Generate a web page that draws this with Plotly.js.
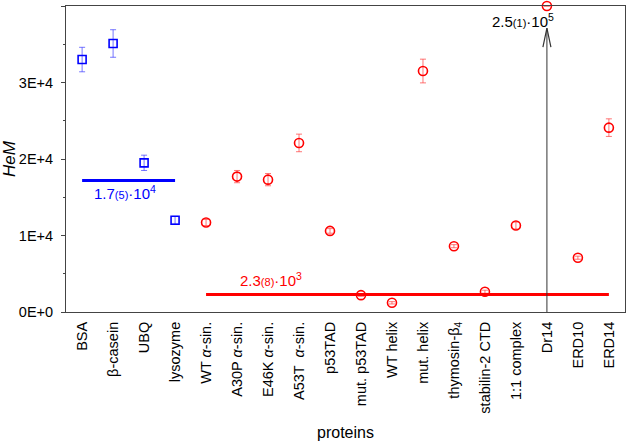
<!DOCTYPE html>
<html><head><meta charset="utf-8">
<script src="https://cdn.plot.ly/plotly-3.0.1.min.js"></script>
<style>html,body{margin:0;padding:0;background:#fff}#c{width:627px;height:443px}</style>
</head><body><div id="c"></div>
<script>
var categories = ["BSA","β-casein","UBQ","lysozyme","WT <i>α</i>-sin.","A30P <i>α</i>-sin.","E46K <i>α</i>-sin.","A53T  <i>α</i>-sin.","p53TAD","mut. p53TAD","WT helix","mut. helix","thymosin-β<sub>4</sub>","stabilin-2 CTD","1:1 complex","Dr14","ERD10","ERD14"];
var globCats = ["BSA","β-casein","UBQ","lysozyme"];
var globVals = [33000, 35100, 19500, 12000];
var globErr = [1600, 1800, 1000, 500];
var idpCats = ["WT <i>α</i>-sin.","A30P <i>α</i>-sin.","E46K <i>α</i>-sin.","A53T  <i>α</i>-sin.","p53TAD","mut. p53TAD","WT helix","mut. helix","thymosin-β<sub>4</sub>","stabilin-2 CTD","1:1 complex","Dr14","ERD10","ERD14"];
var idpVals = [11700, 17700, 17300, 22100, 10600, 2200, 1200, 31500, 8600, 2650, 11300, 250000, 7100, 24100];
var idpErr = [400, 800, 800, 1150, 300, 150, 150, 1550, 200, 200, 450, 0, 200, 1150];
var globMean = 17200, idpMean = 2300;
var yMax = 40000;
var yTickVals = [0, 10000, 20000, 30000, 40000];
var yTickText = ["0E+0","1E+4","2E+4","3E+4","4E+4"];
var yMinor = [5000, 15000, 25000, 35000];
var arrowTip = 37100;

var idpShown = idpVals.map(function(v){return Math.min(v, yMax);});
var drIdx = categories.indexOf("Dr14");

var traces = [
  {x: globCats, y: globVals, type:'scatter', mode:'markers', cliponaxis:false,
   marker:{symbol:'square-open', size:8, color:'#0000ff', line:{width:1.6, color:'#0000ff'}},
   error_y:{type:'data', array: globErr, visible:true, color:'rgba(60,60,255,0.7)', thickness:1, width:3}},
  {x: idpCats, y: idpShown, type:'scatter', mode:'markers', cliponaxis:false,
   marker:{symbol:'circle-open', size:9, color:'#ff0000', line:{width:1.6, color:'#ff0000'}},
   error_y:{type:'data', array: idpErr, visible:true, color:'rgba(255,60,60,0.7)', thickness:1, width:3}},
  {x: [globCats[0], globCats[globCats.length-1]], y:[globMean, globMean], type:'scatter', mode:'lines',
   line:{color:'#0000ff', width:3}, hoverinfo:'skip'},
  {x: [idpCats[0], idpCats[idpCats.length-1]], y:[idpMean, idpMean], type:'scatter', mode:'lines',
   line:{color:'#ff0000', width:3}, hoverinfo:'skip'}
];

var layout = {
  width:627, height:443, showlegend:false,
  margin:{l:66, r:2, t:6, b:131},
  paper_bgcolor:'#fff', plot_bgcolor:'#fff',
  font:{family:'Liberation Sans, Arial, sans-serif', color:'#000', size:14},
  xaxis:{type:'category', categoryorder:'array', categoryarray: categories, range:[-0.52, 17.52],
    showline:true, mirror:true, linecolor:'#444', linewidth:1, showgrid:false, zeroline:false,
    ticks:'', tickangle:-90, tickfont:{size:14.5, color:'#000'}, ticklabelstandoff:3,
    title:{text:'proteins', font:{size:16}, standoff:14}},
  yaxis:{range:[0, yMax], tickmode:'array', tickvals:yTickVals, ticktext:yTickText,
    showline:true, mirror:true, linecolor:'#444', linewidth:1, showgrid:false, zeroline:false,
    ticks:'outside', ticklen:4, tickcolor:'#444', tickfont:{size:14.5}, ticklabelstandoff:5,
    minor:{tickmode:'array', tickvals:yMinor, ticks:'outside', ticklen:2, tickcolor:'#444', showgrid:false},
    title:{text:'<i>HeM</i>', font:{size:17}, standoff:0}},
  shapes:[
    {type:'line', xref:'x', yref:'y', x0:drIdx, x1:drIdx, y0:0, y1:arrowTip, line:{color:'#333', width:1}},
    {type:'path', xref:'x', yref:'y', xsizemode:'pixel', ysizemode:'pixel', xanchor:drIdx, yanchor:arrowTip,
     path:'M-4,-19 L0,0 L4,-19', line:{color:'#333', width:1.2}}
  ],
  annotations:[
    {x:'Dr14', y:yMax, xref:'x', yref:'y', xanchor:'center', yanchor:'top', xshift:-24, yshift:-3,
     text:'2.5<span style="font-size:11px">(1)</span>·10<sup>5</sup>', showarrow:false, font:{size:15, color:'#000'}},
    {x:'β-casein', y:globMean, xref:'x', yref:'y', xanchor:'center', yanchor:'top', xshift:12, yshift:-1,
     text:'1.7<span style="font-size:11px">(5)</span>·10<sup>4</sup>', showarrow:false, font:{size:15, color:'#0000ff'}},
    {x:'p53TAD', y:idpMean, xref:'x', yref:'y', xanchor:'center', yanchor:'bottom', xshift:-59, yshift:3,
     text:'2.3<span style="font-size:11px">(8)</span>·10<sup>3</sup>', showarrow:false, font:{size:15, color:'#ff0000'}}
  ]
};
Plotly.newPlot('c', traces, layout, {displayModeBar:false, staticPlot:true});
</script></body></html>
